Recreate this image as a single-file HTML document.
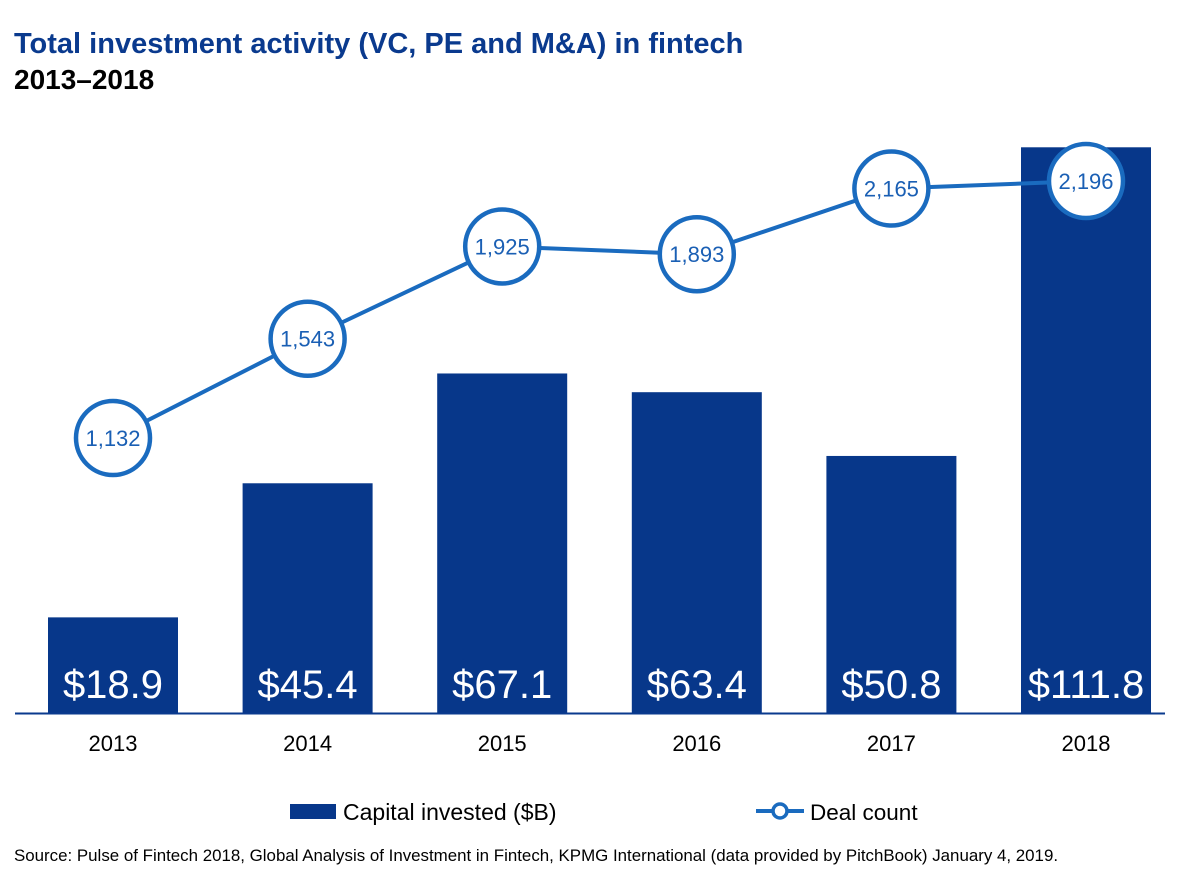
<!DOCTYPE html>
<html><head><meta charset="utf-8"><style>
body{margin:0;background:#fff;font-family:"Liberation Sans",Arial,sans-serif}
svg text{font-family:"Liberation Sans",Arial,sans-serif}
</style></head><body>
<svg width="1184" height="868" viewBox="0 0 1184 868">
<text x="14" y="53" font-size="29" font-weight="bold" fill="#0a3a8e">Total investment activity (VC, PE and M&amp;A) in fintech</text>
<text x="14" y="89" font-size="28" font-weight="bold" fill="#000">2013–2018</text>
<g id="bars"></g>
<line x1="15" y1="713.5" x2="1165" y2="713.5" stroke="#0a3a8e" stroke-width="2"/>
<g id="line"></g>
<g id="xlabels"></g>
<g>
<rect x="290" y="804" width="46" height="15" fill="#07378a"/>
<text x="343" y="820" font-size="23" fill="#000">Capital invested ($B)</text>
<line x1="756" y1="811" x2="804" y2="811" stroke="#1a6bbf" stroke-width="4"/>
<circle cx="780" cy="811" r="7" fill="#fff" stroke="#1a6bbf" stroke-width="3.5"/>
<text x="810" y="820" font-size="22.5" fill="#000">Deal count</text>
</g>
<text x="14" y="861" font-size="16.9" fill="#000">Source: Pulse of Fintech 2018, Global Analysis of Investment in Fintech, KPMG International (data provided by PitchBook) January 4, 2019.</text>
</svg>
<script>
const years=["2013","2014","2015","2016","2017","2018"];
const capital=[18.9,45.4,67.1,63.4,50.8,111.8];
const capitalLabels=["$18.9","$45.4","$67.1","$63.4","$50.8","$111.8"];
const deals=[1132,1543,1925,1893,2165,2196];
const dealLabels=["1,132","1,543","1,925","1,893","2,165","2,196"];
const NS="http://www.w3.org/2000/svg";
const xc=i=>113+i*194.6;
const yBar=v=>713-v*5.06;
const yDeal=v=>438-(v-1132)*0.2415;
function mk(t,a,p){const e=document.createElementNS(NS,t);for(const k in a)e.setAttribute(k,a[k]);p.appendChild(e);return e;}
const gb=document.getElementById('bars'),gl=document.getElementById('line'),gx=document.getElementById('xlabels');
years.forEach((y,i)=>{
 const r=mk('rect',{x:xc(i)-65,y:yBar(capital[i]),width:130,height:713-yBar(capital[i]),fill:'#07378a'},gb);
 
 
 const t=mk('text',{x:xc(i),y:698,'font-size':40,fill:'#fff','text-anchor':'middle'},gb);
 t.textContent=capitalLabels[i];
 
 
 const xl=mk('text',{x:xc(i),y:751,'font-size':22,fill:'#000','text-anchor':'middle'},gx);
 xl.textContent=y;
 
 
});
const pts=deals.map((d,i)=>xc(i)+','+yDeal(d)).join(' ');
const pl=mk('polyline',{points:pts,fill:'none',stroke:'#1a6bbf','stroke-width':4},gl);


deals.forEach((d,i)=>{
 const c=mk('circle',{cx:xc(i),cy:yDeal(d),r:37,fill:'#fff',stroke:'#1a6bbf','stroke-width':4.5},gl);
 
 
 const t=mk('text',{x:xc(i),y:yDeal(d)+8,'font-size':22,fill:'#1a5fb4','text-anchor':'middle'},gl);
 t.textContent=dealLabels[i];
 
 
});
</script>
</body></html>
